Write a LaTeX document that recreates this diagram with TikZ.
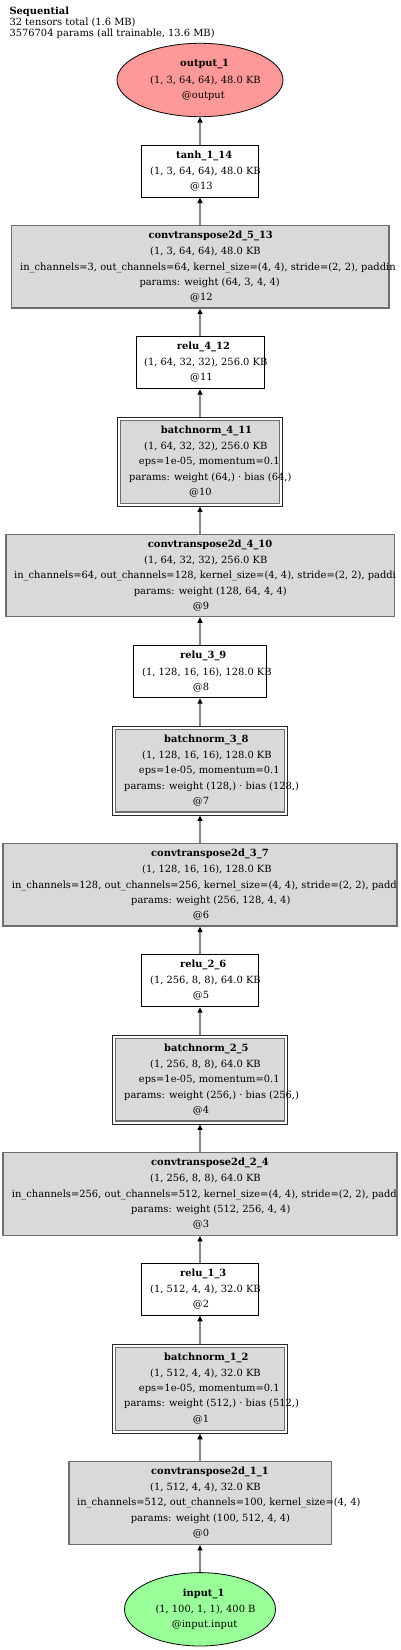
\documentclass[tikz,border=0pt]{standalone}
\usepackage{fontspec}
\setmainfont{DejaVu Serif}
\usetikzlibrary{arrows.meta,shapes.geometric}
\definecolor{outpink}{HTML}{FF9999}
\definecolor{ingreen}{HTML}{99FF99}
\definecolor{boxfill}{HTML}{D9D9D9}
\definecolor{convgray}{HTML}{6E6E6E}
\definecolor{edgegray}{HTML}{888888}
\tikzset{
  tl/.style={anchor=base west, inner sep=0pt, font=\fontsize{9.9}{11}\selectfont},
  tlb/.style={anchor=base west, inner sep=0pt, font=\fontsize{9.9}{11}\selectfont\bfseries},
  wbox/.style={draw=black, line width=0.9pt, fill=white, inner sep=0pt, minimum height=52pt},
  gbox/.style={draw=convgray, line width=1.3pt, fill=boxfill, inner sep=0pt, minimum height=82.5pt},
  bnout/.style={draw=black!85, line width=0.9pt, fill=white, inner sep=0pt, minimum height=88.7pt},
  bnin/.style={draw=convgray, line width=1.3pt, fill=boxfill, inner sep=0pt, minimum height=82.7pt},
  ell/.style={draw=black, ellipse, line width=0.8pt, inner sep=0pt, minimum height=73.4pt},
  edge/.style={draw=edgegray, line width=1.3pt, -{Stealth[black, length=5.5pt, width=5pt, inset=0pt]}}
}
\newcommand\tline[4]{\node[tl] (#1) at (#2,#3+3.5) {#4};}
\newcommand\tlineb[4]{\node[tlb] (#1) at (#2,#3+3.5) {#4};}
\begin{document}
\begin{tikzpicture}[x=1pt,y=-1pt]
\useasboundingbox (0,0) rectangle (400,1650);
\fill[white] (0,0) rectangle (400,1650);

% header
\tlineb{h1}{9.3}{10.7}{Sequential}
\tline{h2}{9.3}{22}{32 tensors total (1.6 MB)}
\tline{h3}{9.3}{33.3}{3576704 params (all trainable, 13.6 MB)}

% shapes
\node[ell, fill=outpink, minimum width=166pt] (out) at (200,80) {};
\node[wbox, minimum width=117.4pt] (tanh) at (200,171.15) {};
\node[gbox, minimum width=377.7pt, minimum height=82.3pt] (c5) at (200,266.85) {};
\node[wbox, minimum width=128pt, minimum height=52.7pt] (r4) at (200,362.35) {};
\node[bnout, minimum width=165.4pt] (bn4) at (200,461.65) {};
\node[bnin, minimum width=159pt, minimum height=83pt] (bn4i) at (200,461.65) {};
\node[gbox, minimum width=388.3pt, minimum height=82pt] (c4) at (200,575.7) {};
\node[wbox, minimum width=133.4pt] (r3) at (200,671.7) {};
\node[bnout, minimum width=175pt] (bn3) at (200,770.65) {};
\node[bnin, minimum width=169pt] (bn3i) at (200,770.65) {};
\node[gbox, minimum width=394pt, minimum height=82.7pt] (c3) at (200,884.65) {};
\node[wbox, minimum width=117.4pt] (r2) at (200,980.7) {};
\node[bnout, minimum width=175pt] (bn2) at (200,1079.65) {};
\node[bnin, minimum width=169pt] (bn2i) at (200,1079.65) {};
\node[gbox, minimum width=394pt, minimum height=83pt] (c2) at (200,1193.8) {};
\node[wbox, minimum width=117.4pt] (r1) at (200,1289.3) {};
\node[bnout, minimum width=175pt, minimum height=89pt] (bn1) at (200,1388.8) {};
\node[bnin, minimum width=169pt, minimum height=83pt] (bn1i) at (200,1388.8) {};
\node[gbox, minimum width=262.3pt, minimum height=83pt] (c1) at (200,1502.8) {};
\node[ell, fill=ingreen, minimum width=151pt] (in) at (200,1609.3) {};

% edges
\draw[edge] (in.north) -- (c1.south);
\draw[edge] (c1.north) -- (bn1.south);
\draw[edge] (bn1.north) -- (r1.south);
\draw[edge] (r1.north) -- (c2.south);
\draw[edge] (c2.north) -- (bn2.south);
\draw[edge] (bn2.north) -- (r2.south);
\draw[edge] (r2.north) -- (c3.south);
\draw[edge] (c3.north) -- (bn3.south);
\draw[edge] (bn3.north) -- (r3.south);
\draw[edge] (r3.north) -- (c4.south);
\draw[edge] (c4.north) -- (bn4.south);
\draw[edge] (bn4.north) -- (r4.south);
\draw[edge] (r4.north) -- (c5.south);
\draw[edge] (c5.north) -- (tanh.south);
\draw[edge] (tanh.north) -- (out.south);

% output_1
\tlineb{outa}{180}{63.3}{output\_1}
\tline{outb}{150}{80}{(1, 3, 64, 64), 48.0 KB}
\tline{outc}{181.7}{94.7}{@output}
% tanh_1_14
\tlineb{tanha}{176}{155}{tanh\_1\_14}
\tline{tanhb}{150}{170.7}{(1, 3, 64, 64), 48.0 KB}
\tline{tanhc}{190}{185.7}{@13}
% convtranspose2d_5_13
\tlineb{c5a}{148.3}{235.3}{convtranspose2d\_5\_13}
\tline{c5b}{150}{251}{(1, 3, 64, 64), 48.0 KB}
\tline{c5c}{20}{266.7}{in\_channels=3, out\_channels=64, kernel\_size=(4, 4), stride=(2, 2), paddin}
\tline{c5d}{139.3}{282}{params: weight (64, 3, 4, 4)}
\tline{c5e}{190}{297.3}{@12}
% relu_4_12
\tlineb{r4a}{176.7}{346}{relu\_4\_12}
\tline{r4b}{144}{362.3}{(1, 64, 32, 32), 256.0 KB}
\tline{r4c}{190}{377.3}{@11}
% batchnorm_4_11
\tlineb{bn4a}{160.7}{430}{batchnorm\_4\_11}
\tline{bn4b}{144}{445.7}{(1, 64, 32, 32), 256.0 KB}
\tline{bn4c}{138.7}{461.3}{eps=1e-05, momentum=0.1}
\tline{bn4d}{129}{476.7}{params: weight (64,) · bias (64,)}
\tline{bn4e}{189}{492}{@10}
% convtranspose2d_4_10
\tlineb{c4a}{147.7}{544}{convtranspose2d\_4\_10}
\tline{c4b}{144}{560}{(1, 64, 32, 32), 256.0 KB}
\tline{c4c}{14}{575.3}{in\_channels=64, out\_channels=128, kernel\_size=(4, 4), stride=(2, 2), paddi}
\tline{c4d}{133.7}{590.7}{params: weight (128, 64, 4, 4)}
\tline{c4e}{192.7}{606}{@9}
% relu_3_9
\tlineb{r3a}{180}{655}{relu\_3\_9}
\tline{r3b}{142}{671.7}{(1, 128, 16, 16), 128.0 KB}
\tline{r3c}{192.7}{686.7}{@8}
% batchnorm_3_8
\tlineb{bn3a}{164}{739.3}{batchnorm\_3\_8}
\tline{bn3b}{142}{755.3}{(1, 128, 16, 16), 128.0 KB}
\tline{bn3c}{138.7}{770.3}{eps=1e-05, momentum=0.1}
\tline{bn3d}{124}{785.7}{params: weight (128,) · bias (128,)}
\tline{bn3e}{192.7}{800.7}{@7}
% convtranspose2d_3_7
\tlineb{c3a}{151}{853.3}{convtranspose2d\_3\_7}
\tline{c3b}{142}{869.3}{(1, 128, 16, 16), 128.0 KB}
\tline{c3c}{11.7}{884.7}{in\_channels=128, out\_channels=256, kernel\_size=(4, 4), stride=(2, 2), padd}
\tline{c3d}{131}{900}{params: weight (256, 128, 4, 4)}
\tline{c3e}{192.7}{915.3}{@6}
% relu_2_6
\tlineb{r2a}{180}{964.3}{relu\_2\_6}
\tline{r2b}{150}{980}{(1, 256, 8, 8), 64.0 KB}
\tline{r2c}{192.7}{995.3}{@5}
% batchnorm_2_5
\tlineb{bn2a}{164}{1048.3}{batchnorm\_2\_5}
\tline{bn2b}{150}{1064}{(1, 256, 8, 8), 64.0 KB}
\tline{bn2c}{138.7}{1079.3}{eps=1e-05, momentum=0.1}
\tline{bn2d}{124}{1094.7}{params: weight (256,) · bias (256,)}
\tline{bn2e}{192.7}{1110}{@4}
% convtranspose2d_2_4
\tlineb{c2a}{151}{1162.3}{convtranspose2d\_2\_4}
\tline{c2b}{150}{1178.3}{(1, 256, 8, 8), 64.0 KB}
\tline{c2c}{11.7}{1193.7}{in\_channels=256, out\_channels=512, kernel\_size=(4, 4), stride=(2, 2), padd}
\tline{c2d}{131}{1208.7}{params: weight (512, 256, 4, 4)}
\tline{c2e}{192.7}{1224}{@3}
% relu_1_3
\tlineb{r1a}{180}{1273.3}{relu\_1\_3}
\tline{r1b}{150}{1289.3}{(1, 512, 4, 4), 32.0 KB}
\tline{r1c}{192.7}{1304.3}{@2}
% batchnorm_1_2
\tlineb{bn1a}{164}{1357.3}{batchnorm\_1\_2}
\tline{bn1b}{150}{1373.3}{(1, 512, 4, 4), 32.0 KB}
\tline{bn1c}{138.7}{1388.3}{eps=1e-05, momentum=0.1}
\tline{bn1d}{124}{1403.3}{params: weight (512,) · bias (512,)}
\tline{bn1e}{192.7}{1418.7}{@1}
% convtranspose2d_1_1
\tlineb{c1a}{151}{1471.3}{convtranspose2d\_1\_1}
\tline{c1b}{150}{1487.3}{(1, 512, 4, 4), 32.0 KB}
\tline{c1c}{77}{1502.3}{in\_channels=512, out\_channels=100, kernel\_size=(4, 4)}
\tline{c1d}{130.7}{1517.7}{params: weight (100, 512, 4, 4)}
\tline{c1e}{192.7}{1533}{@0}
% input_1
\tlineb{ina}{182.7}{1593}{input\_1}
\tline{inb}{155.3}{1609}{(1, 100, 1, 1), 400 B}
\tline{inc}{171.7}{1624}{@input.input}
\end{tikzpicture}
\end{document}
